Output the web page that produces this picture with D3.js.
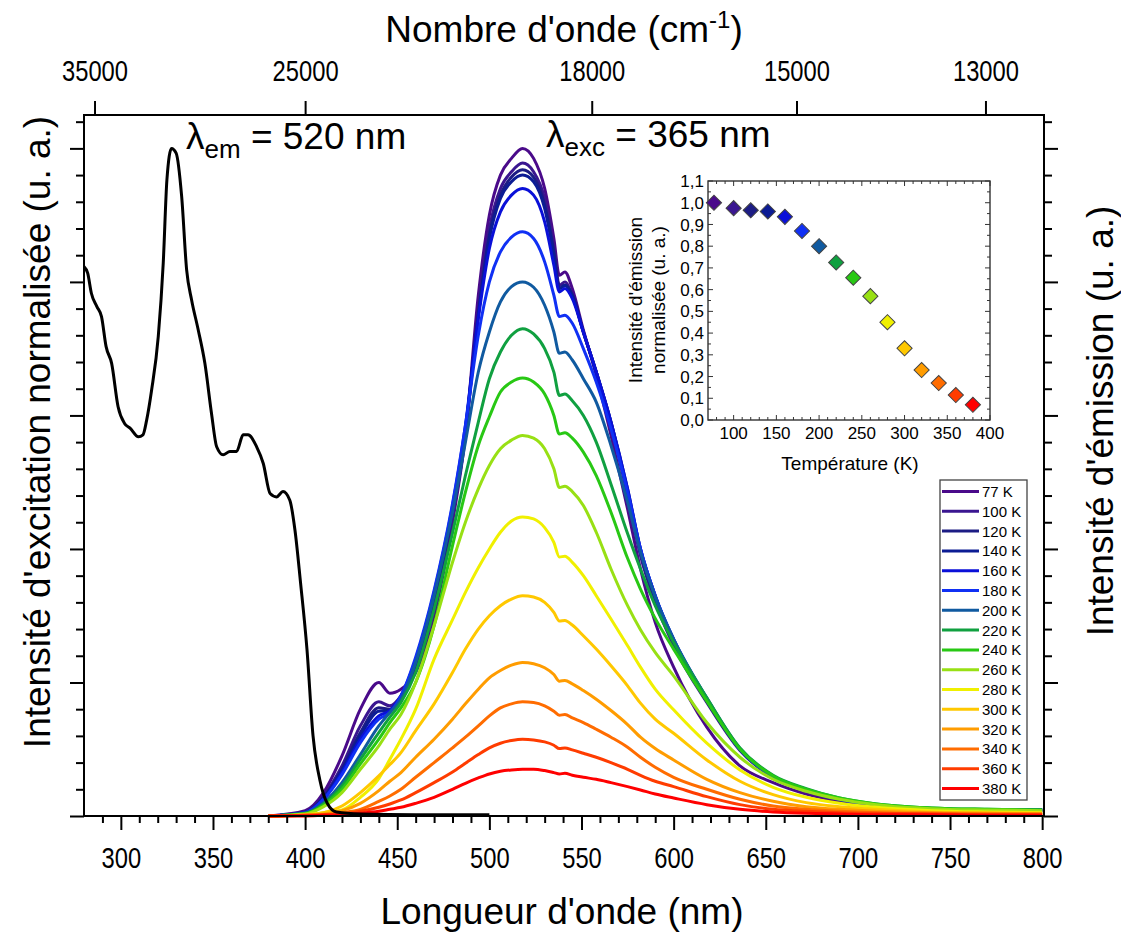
<!DOCTYPE html>
<html><head><meta charset="utf-8">
<script src="https://cdn.jsdelivr.net/npm/d3@7"></script>
<style>body{margin:0;background:#fff}</style>
</head><body><svg id="c" width="1121" height="933"></svg>
<script>
// ---------------- DATA ----------------
const wavelengths = [380,400,410,420,430,440,446,452,460,470,480,487,494,500,506,512,518,524,530,535,538,541,545,551,558,566,575,582,590,600,618,636,654,672,690,710,740,770,800];
const temperatures = ["77 K","100 K","120 K","140 K","160 K","180 K","200 K","220 K","240 K","260 K","280 K","300 K","320 K","340 K","360 K","380 K"];
const seriesColors = ["#4a0a8a","#3a1690","#1c1c84","#0c1c94","#0a10d8","#1030f4","#105aa0","#10a040","#28c814","#98e014","#f0f000","#ffc800","#ff9c00","#ff6c00","#ff3c00","#ff0000"];
const em77  = [0,0.008,0.035,0.09,0.16,0.20,0.184,0.19,0.215,0.30,0.44,0.57,0.78,0.90,0.96,0.985,1.0,0.985,0.94,0.865,0.81,0.815,0.79,0.728,0.66,0.57,0.46,0.37,0.29,0.223,0.133,0.075,0.05,0.033,0.022,0.014,0.009,0.007,0.006];
const em100 = [0,0.006,0.03,0.075,0.135,0.171,0.165,0.18,0.225,0.32,0.45,0.57,0.76,0.88,0.94,0.965,0.978,0.965,0.925,0.85,0.795,0.80,0.78,0.725,0.665,0.585,0.48,0.39,0.32,0.255,0.17,0.098,0.058,0.038,0.024,0.016,0.01,0.009,0.008];
const em120 = [0,0.005,0.028,0.07,0.125,0.162,0.16,0.178,0.228,0.325,0.455,0.575,0.75,0.87,0.93,0.957,0.968,0.957,0.915,0.845,0.79,0.795,0.78,0.725,0.665,0.59,0.485,0.395,0.325,0.26,0.172,0.1,0.059,0.039,0.025,0.016,0.01,0.009,0.009];
const em140 = [0,0.005,0.027,0.068,0.12,0.157,0.158,0.178,0.23,0.33,0.46,0.58,0.75,0.865,0.925,0.95,0.96,0.95,0.91,0.84,0.79,0.795,0.78,0.725,0.665,0.59,0.49,0.40,0.33,0.262,0.174,0.1,0.059,0.039,0.025,0.016,0.01,0.009,0.009];
const em160 = [0,0.005,0.025,0.065,0.115,0.15,0.158,0.18,0.235,0.335,0.465,0.585,0.745,0.85,0.905,0.93,0.94,0.93,0.89,0.825,0.785,0.79,0.775,0.725,0.665,0.59,0.49,0.40,0.33,0.264,0.175,0.1,0.059,0.039,0.025,0.016,0.01,0.009,0.009];
const em180 = [0,0.005,0.025,0.062,0.11,0.145,0.155,0.18,0.238,0.338,0.468,0.585,0.72,0.80,0.845,0.867,0.875,0.865,0.83,0.78,0.748,0.75,0.738,0.70,0.65,0.58,0.485,0.40,0.33,0.265,0.176,0.1,0.059,0.039,0.025,0.016,0.011,0.009,0.009];
const em200 = [0,0.004,0.02,0.05,0.092,0.135,0.155,0.175,0.23,0.33,0.455,0.56,0.665,0.725,0.77,0.793,0.80,0.792,0.765,0.725,0.693,0.695,0.683,0.655,0.62,0.555,0.47,0.395,0.328,0.265,0.177,0.101,0.06,0.04,0.026,0.017,0.011,0.009,0.009];
const em220 = [0,0.004,0.018,0.045,0.085,0.125,0.148,0.17,0.215,0.31,0.424,0.51,0.59,0.655,0.695,0.72,0.73,0.722,0.70,0.665,0.63,0.632,0.622,0.60,0.56,0.497,0.423,0.37,0.315,0.26,0.177,0.102,0.061,0.041,0.027,0.018,0.012,0.01,0.009];
const em240 = [0,0.003,0.016,0.04,0.078,0.115,0.14,0.162,0.20,0.285,0.405,0.485,0.555,0.598,0.635,0.65,0.656,0.65,0.632,0.60,0.572,0.574,0.566,0.545,0.51,0.455,0.386,0.34,0.296,0.25,0.172,0.10,0.06,0.04,0.027,0.018,0.012,0.01,0.009];
const em260 = [0,0.003,0.014,0.035,0.07,0.105,0.13,0.152,0.20,0.285,0.38,0.44,0.49,0.525,0.55,0.563,0.57,0.566,0.55,0.52,0.492,0.494,0.486,0.465,0.425,0.37,0.315,0.279,0.245,0.21,0.14,0.088,0.055,0.037,0.025,0.017,0.011,0.009,0.008];
const em280 = [0,0.002,0.005,0.009,0.028,0.056,0.085,0.115,0.16,0.235,0.294,0.335,0.372,0.40,0.425,0.442,0.448,0.445,0.432,0.41,0.388,0.389,0.38,0.36,0.33,0.295,0.255,0.223,0.19,0.159,0.109,0.069,0.043,0.028,0.019,0.013,0.008,0.006,0.005];
const em300 = [0,0.002,0.005,0.015,0.035,0.06,0.077,0.095,0.128,0.168,0.215,0.25,0.28,0.30,0.315,0.325,0.33,0.328,0.32,0.305,0.292,0.293,0.286,0.27,0.25,0.225,0.195,0.169,0.145,0.124,0.084,0.052,0.032,0.02,0.014,0.01,0.006,0.005,0.004];
const em320 = [0,0.001,0.003,0.008,0.019,0.038,0.052,0.065,0.088,0.115,0.145,0.168,0.19,0.207,0.218,0.226,0.23,0.228,0.222,0.212,0.202,0.203,0.198,0.188,0.175,0.158,0.137,0.118,0.101,0.084,0.055,0.035,0.022,0.014,0.01,0.007,0.005,0.004,0.003];
const em340 = [0,0.001,0.002,0.005,0.01,0.022,0.03,0.04,0.058,0.08,0.102,0.118,0.135,0.15,0.162,0.168,0.171,0.17,0.165,0.157,0.151,0.152,0.147,0.14,0.13,0.118,0.103,0.088,0.073,0.058,0.04,0.025,0.015,0.01,0.007,0.005,0.004,0.003,0.003];
const em360 = [0,0.001,0.002,0.003,0.007,0.013,0.018,0.024,0.035,0.05,0.066,0.079,0.092,0.102,0.109,0.113,0.115,0.114,0.111,0.106,0.101,0.102,0.099,0.094,0.088,0.08,0.07,0.061,0.052,0.044,0.029,0.017,0.01,0.007,0.005,0.004,0.003,0.002,0.002];
const em380 = [0,0,0.001,0.002,0.004,0.007,0.01,0.013,0.019,0.028,0.04,0.049,0.057,0.063,0.067,0.069,0.07,0.07,0.068,0.065,0.063,0.064,0.061,0.058,0.055,0.05,0.044,0.039,0.033,0.027,0.017,0.01,0.006,0.004,0.003,0.002,0.002,0.001,0.001];
const emissionSeries = [em77,em100,em120,em140,em160,em180,em200,em220,em240,em260,em280,em300,em320,em340,em360,em380];

const excitationNm  = [280,282,284,287,289.5,292,295,298.5,302,305,309.5,312,314,316.7,320.3,323,325,327.5,330,333,335.7,338.4,342,345.6,349.2,352,355.5,359.2,362.8,366.4,369,373.7,377.3,381,384.5,388,391.7,394.5,397.5,401,404.3,408,412,417,430,460,500];
const excitationVal = [0.823,0.813,0.783,0.763,0.748,0.703,0.678,0.613,0.588,0.581,0.568,0.571,0.593,0.638,0.718,0.828,0.953,1.0,0.993,0.928,0.818,0.773,0.728,0.678,0.603,0.553,0.541,0.546,0.546,0.571,0.571,0.553,0.528,0.483,0.478,0.486,0.473,0.428,0.35,0.25,0.12,0.054,0.019,0.006,0.003,0.002,0.002];

const insetTemps = [77,100,120,140,160,180,200,220,240,260,280,300,320,340,360,380];
const insetIntensity = [1.0,0.975,0.965,0.96,0.935,0.87,0.80,0.725,0.655,0.57,0.45,0.33,0.23,0.17,0.115,0.07];

const bottomTickLabels = [300,350,400,450,500,550,600,650,700,750,800];
const topTickLabels = [35000,25000,18000,15000,13000];
const insetXTicks = [100,150,200,250,300,350,400];
const insetYTicks = [0,0.1,0.2,0.3,0.4,0.5,0.6,0.7,0.8,0.9,1.0,1.1];

// ---------------- DRAW ----------------
const FONT = '"Liberation Sans", Arial, Helvetica, sans-serif';
const svg = d3.select("#c").style("font-family", FONT);
svg.append("rect").attr("width",1121).attr("height",933).attr("fill","#fff");

const x = d3.scaleLinear().domain([280, 801]).range([84, 1044]);
const y = d3.scaleLinear().domain([0, 1.05]).range([816, 115]);

function styleAxis(g, fs){
  g.select(".domain").remove();
  g.selectAll("line").attr("stroke","#000").attr("stroke-width",2);
  g.selectAll("text").attr("font-family",FONT).attr("font-size",fs).attr("fill","#000")
    .each(function(){ const s = this.textContent; if (s.length) d3.select(this).attr("textLength", s.length * 13.2).attr("lengthAdjust","spacingAndGlyphs"); });
}

// emission curves
const line = d3.line().defined(d => d[1] != null).x(d => x(d[0])).y(d => y(d[1])).curve(d3.curveMonotoneX);
const gEm = svg.append("g");
emissionSeries.forEach((vals, i) => {
  gEm.append("path").datum(wavelengths.map((w, k) => [w, vals[k]]))
    .attr("d", line).attr("fill","none").attr("stroke", seriesColors[i])
    .attr("stroke-width", 3).attr("stroke-linejoin","round");
});
// excitation curve
svg.append("path").datum(excitationNm.map((w,k)=>[w, excitationVal[k]]))
  .attr("d", line).attr("fill","none").attr("stroke","#000").attr("stroke-width",3).attr("stroke-linejoin","round");

// axes
const minorX = d3.range(290, 801, 10).filter(v => v % 50 !== 0);
svg.append("g").attr("transform","translate(0,816)")
  .call(d3.axisBottom(x).tickValues(minorX).tickSize(7).tickSizeOuter(0).tickFormat(""))
  .call(g => styleAxis(g, 29));
svg.append("g").attr("transform","translate(0,816)")
  .call(d3.axisBottom(x).tickValues(bottomTickLabels).tickSize(14).tickSizeOuter(0).tickPadding(17).tickFormat(d3.format("d")))
  .call(g => styleAxis(g, 29));

svg.append("g").attr("transform","translate(0,115)")
  .call(d3.axisTop(x).tickValues(topTickLabels.map(v => 1e7 / v)).tickSize(14).tickSizeOuter(0).tickPadding(20)
    .tickFormat(d => String(Math.round(1e7 / d))))
  .call(g => styleAxis(g, 29));

const majorY = [0,0.2,0.4,0.6,0.8,1.0];
const minorY = d3.range(1, 27).filter(i => i % 5 !== 0).map(i => i * 0.04);
[["L",84],["R",1044]].forEach(([side, px]) => {
  const mk = side === "L" ? d3.axisLeft : d3.axisRight;
  svg.append("g").attr("transform",`translate(${px},0)`)
    .call(mk(y).tickValues(minorY).tickSize(8).tickSizeOuter(0).tickFormat(""))
    .call(g => styleAxis(g, 24));
  svg.append("g").attr("transform",`translate(${px},0)`)
    .call(mk(y).tickValues(majorY).tickSize(14).tickSizeOuter(0).tickFormat(""))
    .call(g => styleAxis(g, 24));
});

// frame
svg.append("rect").attr("x",84).attr("y",115).attr("width",960).attr("height",701)
  .attr("fill","none").attr("stroke","#000").attr("stroke-width",2);

// axis titles
svg.append("text").attr("x",562).attr("y",924).attr("text-anchor","middle")
  .attr("font-size",37).text("Longueur d'onde (nm)");
const tt = svg.append("text").attr("x",564).attr("y",42).attr("text-anchor","middle").attr("font-size",37);
tt.append("tspan").text("Nombre d'onde (cm");
tt.append("tspan").attr("font-size",24).attr("dy",-14).text("-1");
tt.append("tspan").attr("dy",14).text(")");
svg.append("text").attr("transform","translate(50,432) rotate(-90)").attr("text-anchor","middle")
  .attr("font-size",37).text("Intensité d'excitation normalisée (u. a.)");
svg.append("text").attr("transform","translate(1113,421) rotate(-90)").attr("text-anchor","middle")
  .attr("font-size",37).text("Intensité d'émission (u. a.)");

// lambda annotations
function lam(xp, yp, sub, rest){
  const t = svg.append("text").attr("x",xp).attr("y",yp).attr("font-size",37);
  t.append("tspan").text("λ");
  t.append("tspan").attr("font-size",26).attr("dy",9).text(sub);
  t.append("tspan").attr("dy",-9).text(rest);
}
lam(186, 149, "em", " = 520 nm");
lam(546, 147, "exc", " = 365 nm");

// ---------------- INSET ----------------
const xi = d3.scaleLinear().domain([70, 400]).range([708, 990]);
const yi = d3.scaleLinear().domain([0, 1.1]).range([420, 181]);
const gi = svg.append("g");
gi.append("rect").attr("x",708).attr("y",181).attr("width",282).attr("height",239)
  .attr("fill","#fff").attr("stroke","#333").attr("stroke-width",1.4);
const tickC = "#333";
d3.range(80, 401, 10).forEach(v => {
  const major = v % 50 === 0, L = major ? 5 : 3;
  gi.append("line").attr("x1",xi(v)).attr("x2",xi(v)).attr("y1",420).attr("y2",420-L).attr("stroke",tickC).attr("stroke-width",1);
  gi.append("line").attr("x1",xi(v)).attr("x2",xi(v)).attr("y1",181).attr("y2",181+L).attr("stroke",tickC).attr("stroke-width",1);
});
d3.range(0, 23).forEach(i => {
  const v = i * 0.05, major = i % 2 === 0, L = major ? 5 : 3;
  gi.append("line").attr("x1",708).attr("x2",708+L).attr("y1",yi(v)).attr("y2",yi(v)).attr("stroke",tickC).attr("stroke-width",1);
  gi.append("line").attr("x1",990).attr("x2",990-L).attr("y1",yi(v)).attr("y2",yi(v)).attr("stroke",tickC).attr("stroke-width",1);
});
insetXTicks.forEach(v => gi.append("text").attr("x",xi(v)).attr("y",439).attr("text-anchor","middle")
  .attr("font-size",17).text(v));
insetYTicks.forEach(v => gi.append("text").attr("x",704).attr("y",yi(v)).attr("dy","0.36em").attr("text-anchor","end")
  .attr("font-size",17).text(d3.format(".1f")(v).replace(".", ",")));
gi.append("text").attr("x",850).attr("y",470).attr("text-anchor","middle").attr("font-size",19).text("Température (K)");
gi.append("text").attr("transform","translate(642,300) rotate(-90)").attr("text-anchor","middle").attr("font-size",19).text("Intensité d'émission");
gi.append("text").attr("transform","translate(665,300) rotate(-90)").attr("text-anchor","middle").attr("font-size",19).text("normalisée (u. a.)");
const diamond = d3.symbol().type(d3.symbolSquare).size(115);
insetTemps.forEach((t, i) => {
  gi.append("path").attr("d", diamond())
    .attr("transform",`translate(${xi(t)},${yi(insetIntensity[i])}) rotate(45)`)
    .attr("fill", seriesColors[i]).attr("stroke","#444").attr("stroke-width",1);
});

// ---------------- LEGEND ----------------
const lg = svg.append("g");
lg.append("rect").attr("x",940).attr("y",480).attr("width",87).attr("height",320)
  .attr("fill","#fff").attr("stroke","#444").attr("stroke-width",1.3);
temperatures.forEach((t, i) => {
  const yy = 491.5 + i * 19.8;
  lg.append("line").attr("x1",942).attr("x2",979).attr("y1",yy).attr("y2",yy)
    .attr("stroke",seriesColors[i]).attr("stroke-width",3);
  lg.append("text").attr("x",982).attr("y",yy).attr("dy","0.36em").attr("font-size",15).text(t);
});
</script>
</body></html>
